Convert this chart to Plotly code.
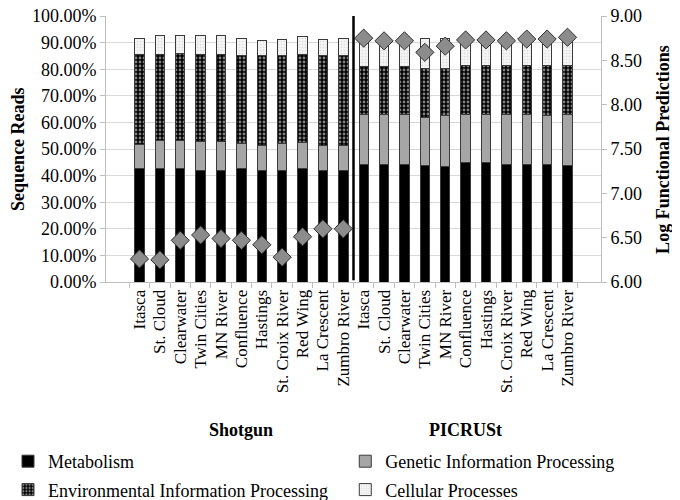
import plotly.graph_objects as go

sites = ["Itasca", "St. Cloud", "Clearwater", "Twin Cities", "MN River", "Confluence",
         "Hastings", "St. Croix River", "Red Wing", "La Crescent", "Zumbro River"]
groups = ["Shotgun", "PICRUSt"]

# stacked shares of sequence reads (fraction), shotgun sites then PICRUSt sites
metabolism = [0.425, 0.425, 0.425, 0.419, 0.421, 0.425, 0.421, 0.421, 0.425, 0.421, 0.421,
              0.441, 0.441, 0.441, 0.437, 0.435, 0.448, 0.448, 0.441, 0.441, 0.440, 0.437]
genetic = [0.092, 0.108, 0.108, 0.108, 0.106, 0.096, 0.094, 0.100, 0.098, 0.094, 0.094,
           0.187, 0.187, 0.187, 0.182, 0.191, 0.183, 0.183, 0.187, 0.190, 0.187, 0.192]
environmental = [0.339, 0.323, 0.325, 0.329, 0.329, 0.331, 0.335, 0.329, 0.333, 0.335, 0.337,
                 0.182, 0.182, 0.182, 0.185, 0.178, 0.182, 0.182, 0.185, 0.182, 0.186, 0.184]
cellular = [0.059, 0.071, 0.069, 0.069, 0.069, 0.064, 0.058, 0.063, 0.066, 0.060, 0.064,
            0.105, 0.105, 0.105, 0.111, 0.111, 0.104, 0.104, 0.104, 0.104, 0.104, 0.104]

# log functional predictions (right axis)
log_pred = [6.26, 6.25, 6.47, 6.53, 6.49, 6.47, 6.42, 6.28, 6.51, 6.60, 6.60,
            8.75, 8.72, 8.72, 8.59, 8.66, 8.73, 8.73, 8.72, 8.74, 8.74, 8.76]

# second group gets a zero-width space so the category names stay distinct
labels = sites + [s + "\u200b" for s in sites]
font = "Liberation Serif"
edge = dict(color="#3a3a3a", width=1)

fig = go.Figure()
fig.add_trace(go.Bar(x=labels, y=metabolism, name="Metabolism", width=0.46,
                     marker=dict(color="black", line=edge), legend="legend", legendgroup="a"))
fig.add_trace(go.Bar(x=labels, y=genetic, name="Genetic Information Processing", width=0.46,
                     marker=dict(color="#a6a6a6", line=edge), legend="legend2", legendgroup="b"))
fig.add_trace(go.Bar(x=labels, y=environmental, name="Environmental Information Processing", width=0.46,
                     marker=dict(color="black", line=edge,
                                 pattern=dict(shape=".", fgcolor="white", bgcolor="black",
                                              size=4, solidity=0.4)),
                     legend="legend", legendgroup="c"))
fig.add_trace(go.Bar(x=labels, y=cellular, name="Cellular Processes", width=0.46,
                     marker=dict(color="#f4f4f4", line=edge,
                                 pattern=dict(shape=".", fgcolor="#c8c8c8", bgcolor="#f7f7f7",
                                              size=3, solidity=0.3)),
                     legend="legend2", legendgroup="d"))
fig.add_trace(go.Scatter(x=labels, y=log_pred, yaxis="y2", mode="markers", showlegend=False,
                         marker=dict(symbol="diamond", size=14, color="#8c8c8c",
                                     line=dict(color="#303030", width=1))))

split = len(sites) - 0.5
fig.add_shape(type="line", xref="x", yref="y", x0=split, x1=split, y0=0.007, y1=1.0,
              line=dict(color="black", width=2.5))

for i, g in enumerate(groups):
    fig.add_annotation(x=i * len(sites) + (len(sites) - 1) / 2, y=-0.555, xref="x", yref="paper",
                       xanchor="center", yanchor="middle",
                       text="<b>%s</b>" % g, showarrow=False,
                       font=dict(family=font, size=18, color="black"))

# axis titles
fig.add_annotation(x=-0.178, y=0.5, xref="paper", yref="paper", text="<b>Sequence Reads</b>",
                   xanchor="center", yanchor="middle",
                   textangle=-90, showarrow=False, font=dict(family=font, size=18, color="black"))
fig.add_annotation(x=1.125, y=0.5, xref="paper", yref="paper", text="<b>Log Functional Predictions</b>",
                   xanchor="center", yanchor="middle",
                   textangle=-90, showarrow=False, font=dict(family=font, size=18, color="black"))

fig.update_layout(
    width=680, height=500,
    margin=dict(l=98, r=87, t=8, b=226, autoexpand=False),
    barmode="stack",
    plot_bgcolor="white", paper_bgcolor="white",
    font=dict(family=font, size=18, color="black"),
    xaxis=dict(type="category", tickangle=-90, ticks="outside", tickson="boundaries",
               ticklen=5, tickcolor="#bfbfbf", showline=True, linecolor="#bfbfbf",
               tickfont=dict(size=17), showgrid=False, zeroline=False),
    yaxis=dict(range=[0, 1], dtick=0.1, tickformat=".2%", showgrid=True, gridcolor="#d9d9d9",
               ticks="outside", ticklen=5, tickcolor="#bfbfbf", showline=True, linecolor="#bfbfbf",
               zeroline=False, ticklabeloverflow="allow"),
    yaxis2=dict(range=[6, 9], dtick=0.5, tickformat=".2f", overlaying="y", side="right",
                showgrid=False, ticks="outside", ticklen=5, tickcolor="#bfbfbf",
                showline=True, linecolor="#bfbfbf", zeroline=False, ticklabeloverflow="allow"),
    legend=dict(x=0, y=0.13, xref="container", yref="container", xanchor="left", yanchor="top",
                orientation="v", tracegroupgap=2, font=dict(size=18)),
    legend2=dict(x=0.496, y=0.13, xref="container", yref="container", xanchor="left", yanchor="top",
                 orientation="v", tracegroupgap=2, font=dict(size=18)),
)

fig.write_html("out.html")
